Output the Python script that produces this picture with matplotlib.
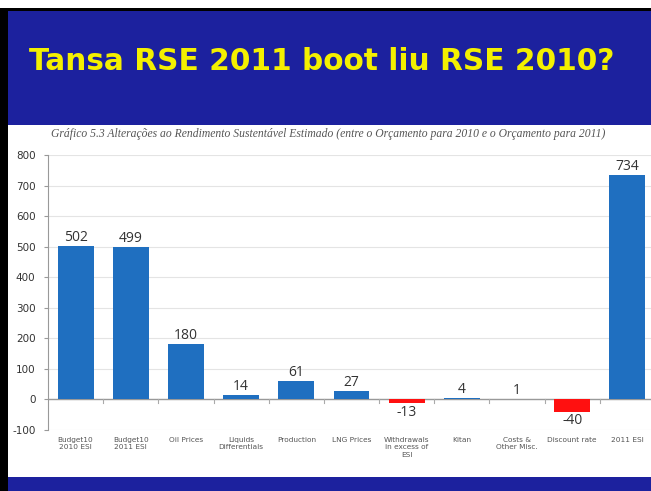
import matplotlib.pyplot as plt
from matplotlib.patches import Rectangle

# chart data
categories = ["Budget10\n2010 ESI", "Budget10\n2011 ESI", "Oil Prices", "Liquids\nDifferentials",
              "Production", "LNG Prices", "Withdrawals\nin excess of\nESI", "Kitan",
              "Costs &\nOther Misc.", "Discount rate", "2011 ESI"]
values = [502, 499, 180, 14, 61, 27, -13, 4, 1, -40, 734]
yticks = [-100, 0, 100, 200, 300, 400, 500, 600, 700, 800]

title = "Tansa RSE 2011 boot liu RSE 2010?"
subtitle = ("Gráfico 5.3 Alterações ao Rendimento Sustentável Estimado "
            "(entre o Orçamento para 2010 e o Orçamento para 2011)")

W, H = 651, 491
fig = plt.figure(figsize=(W / 100, H / 100), dpi=100)
fig.patch.set_facecolor("white")


def px(x0, y0, x1, y1, color):
    # rectangle in pixel coords (top-left origin)
    fig.patches.append(Rectangle((x0 / W, 1 - y1 / H), (x1 - x0) / W, (y1 - y0) / H,
                                 transform=fig.transFigure, facecolor=color,
                                 edgecolor="none", zorder=-10))


blue = "#1c219e"
px(0, 8, 8, H, "black")
px(0, 8, W, 11, "black")
px(8, 11, W, 125, blue)
px(8, 125, W, 477, "white")
px(8, 477, W, H, blue)

fig.text(322 / W, 1 - 62 / H, title, color="#f4f000", fontsize=21.3, fontweight="bold",
         family="DejaVu Sans", ha="center", va="center")
fig.text(328 / W, 1 - 134 / H, subtitle, color="#555555", fontsize=8.4, style="italic",
         family="Liberation Serif", ha="center", va="center")

ax = fig.add_axes([48 / W, 1 - 430 / H, 607 / W, 275 / H])
ax.set_facecolor("none")

colors = ["#1f6fc0" if v >= 0 else "#ff1010" for v in values]
xs = list(range(len(values)))
ax.bar(xs, values, width=0.65, color=colors, zorder=3)

for x, v in zip(xs, values):
    if v >= 0:
        ax.text(x, v + 4, str(v), ha="center", va="bottom", fontsize=10,
                color="#333333", family="Open Sans")
    else:
        ax.text(x, v - 4, str(v), ha="center", va="top", fontsize=10,
                color="#333333", family="Open Sans")

ax.set_xlim(-0.5, len(values) - 0.5)
ax.set_ylim(-100, 800)
ax.set_yticks(yticks)
ax.set_yticklabels([str(t) for t in yticks], fontsize=7.5, color="#333333")
ax.tick_params(axis="y", length=3, color="#999999", pad=6)
ax.grid(axis="y", color="#e4e4e4", linewidth=0.8, zorder=0)

ax.set_xticks(xs)
ax.set_xticklabels(categories, fontsize=5.3, color="#555555", linespacing=1.3)
ax.tick_params(axis="x", length=0, pad=5)

# zero line with category separator ticks
ax.axhline(0, color="#999999", linewidth=1, zorder=2)
for b in range(1, len(values)):
    ax.plot([b - 0.5, b - 0.5], [0, -10], color="#aaaaaa", linewidth=0.8, zorder=2)

for s in ["top", "right", "bottom"]:
    ax.spines[s].set_visible(False)
ax.spines["left"].set_color("#999999")

fig.savefig("out.png", dpi=100)
